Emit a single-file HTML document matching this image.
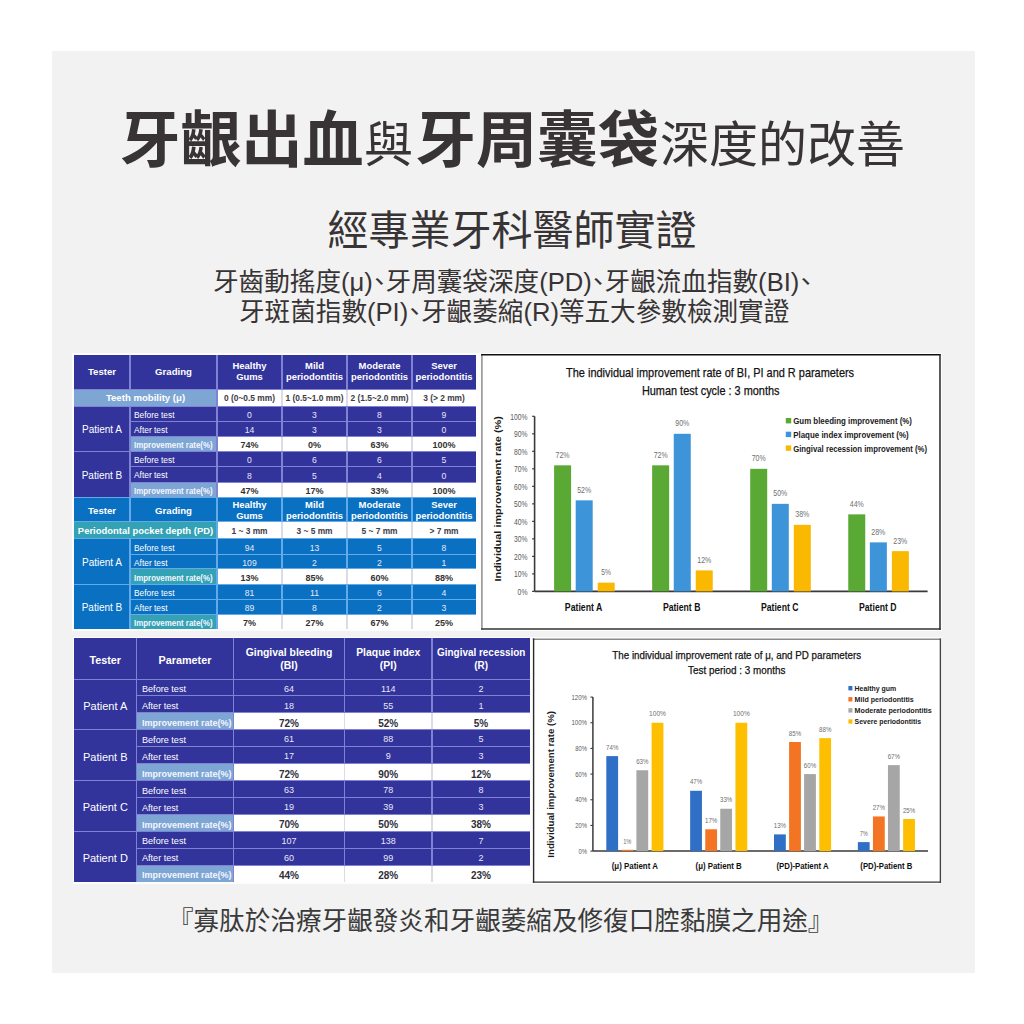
<!DOCTYPE html><html><head><meta charset="utf-8"><style>
html,body{margin:0;padding:0;background:#fff;}
body{width:1024px;height:1024px;position:relative;overflow:hidden;}
.r{position:absolute;}
.t{position:absolute;display:flex;align-items:center;white-space:nowrap;font-family:"Liberation Sans",sans-serif;box-sizing:border-box;}
.lp{letter-spacing:0px;}
.cj{position:absolute;white-space:nowrap;font-family:"Liberation Sans","Noto Sans CJK TC",sans-serif;color:#333;}

</style></head><body>
<div class="r" style="left:52px;top:51px;width:923px;height:922px;background:#f2f2f2;"></div>
<div class="r" style="left:72.3px;top:353.3px;width:870.0px;height:277.99999999999994px;background:#fdfdfe;"></div>
<div class="r" style="left:72.6px;top:636.5px;width:869.6999999999999px;height:247.79999999999995px;background:#fdfdfe;"></div>
<div class="cj" style="left:119.6px;top:110.5px;font-size:61px;font-weight:700;line-height:61px;color:#383435;">牙齦出血</div>
<div class="cj" style="left:364px;top:121px;font-size:49px;font-weight:400;line-height:49px;color:#383435;">與</div>
<div class="cj" style="left:415px;top:110.5px;font-size:61px;font-weight:700;line-height:61px;color:#383435;">牙周囊袋</div>
<div class="cj" style="left:660px;top:121px;font-size:49px;font-weight:400;line-height:49px;color:#383435;">深度的改善</div>
<div class="cj" style="left:327.5px;top:211px;font-size:41px;font-weight:400;line-height:41px;color:#383435;">經專業牙科醫師實證</div>
<div class="cj" style="left:213px;top:269.5px;font-size:25.6px;font-weight:400;line-height:25.6px;color:#383435;font-feature-settings:'palt';">牙齒動搖度<span class="lp">(μ)</span>、牙周囊袋深度<span class="lp">(PD)</span>、牙齦流血指數<span class="lp">(BI)</span>、</div>
<div class="cj" style="left:239px;top:300px;font-size:25.6px;font-weight:400;line-height:25.6px;color:#383435;font-feature-settings:'palt';">牙斑菌指數<span class="lp">(PI)</span>、牙齦萎縮<span class="lp">(R)</span>等五大參數檢測實證</div>
<div class="r" style="left:74px;top:355px;width:56px;height:34px;background:#32339b;"></div>
<div class="r" style="left:130px;top:355px;width:87px;height:34px;background:#32339b;"></div>
<div class="r" style="left:217px;top:355px;width:65px;height:34px;background:#32339b;"></div>
<div class="r" style="left:282px;top:355px;width:65px;height:34px;background:#32339b;"></div>
<div class="r" style="left:347px;top:355px;width:65px;height:34px;background:#32339b;"></div>
<div class="r" style="left:412px;top:355px;width:64px;height:34px;background:#32339b;"></div>
<div class="r" style="left:74px;top:389px;width:143px;height:17px;background:#7ea6d4;"></div>
<div class="r" style="left:217px;top:389px;width:65px;height:17px;background:#ffffff;"></div>
<div class="r" style="left:282px;top:389px;width:65px;height:17px;background:#ffffff;"></div>
<div class="r" style="left:347px;top:389px;width:65px;height:17px;background:#ffffff;"></div>
<div class="r" style="left:412px;top:389px;width:64px;height:17px;background:#ffffff;"></div>
<div class="r" style="left:74px;top:406px;width:56px;height:45px;background:#32339b;"></div>
<div class="r" style="left:130px;top:406px;width:87px;height:15px;background:#32339b;"></div>
<div class="r" style="left:217px;top:406px;width:65px;height:15px;background:#32339b;"></div>
<div class="r" style="left:282px;top:406px;width:65px;height:15px;background:#32339b;"></div>
<div class="r" style="left:347px;top:406px;width:65px;height:15px;background:#32339b;"></div>
<div class="r" style="left:412px;top:406px;width:64px;height:15px;background:#32339b;"></div>
<div class="r" style="left:130px;top:421px;width:87px;height:15px;background:#32339b;"></div>
<div class="r" style="left:217px;top:421px;width:65px;height:15px;background:#32339b;"></div>
<div class="r" style="left:282px;top:421px;width:65px;height:15px;background:#32339b;"></div>
<div class="r" style="left:347px;top:421px;width:65px;height:15px;background:#32339b;"></div>
<div class="r" style="left:412px;top:421px;width:64px;height:15px;background:#32339b;"></div>
<div class="r" style="left:130px;top:436px;width:87px;height:15px;background:#7ea6d4;"></div>
<div class="r" style="left:217px;top:436px;width:65px;height:15px;background:#ffffff;"></div>
<div class="r" style="left:282px;top:436px;width:65px;height:15px;background:#ffffff;"></div>
<div class="r" style="left:347px;top:436px;width:65px;height:15px;background:#ffffff;"></div>
<div class="r" style="left:412px;top:436px;width:64px;height:15px;background:#ffffff;"></div>
<div class="r" style="left:74px;top:451px;width:56px;height:46px;background:#32339b;"></div>
<div class="r" style="left:130px;top:451px;width:87px;height:15.5px;background:#32339b;"></div>
<div class="r" style="left:217px;top:451px;width:65px;height:15.5px;background:#32339b;"></div>
<div class="r" style="left:282px;top:451px;width:65px;height:15.5px;background:#32339b;"></div>
<div class="r" style="left:347px;top:451px;width:65px;height:15.5px;background:#32339b;"></div>
<div class="r" style="left:412px;top:451px;width:64px;height:15.5px;background:#32339b;"></div>
<div class="r" style="left:130px;top:466.5px;width:87px;height:15.5px;background:#32339b;"></div>
<div class="r" style="left:217px;top:466.5px;width:65px;height:15.5px;background:#32339b;"></div>
<div class="r" style="left:282px;top:466.5px;width:65px;height:15.5px;background:#32339b;"></div>
<div class="r" style="left:347px;top:466.5px;width:65px;height:15.5px;background:#32339b;"></div>
<div class="r" style="left:412px;top:466.5px;width:64px;height:15.5px;background:#32339b;"></div>
<div class="r" style="left:130px;top:482px;width:87px;height:15px;background:#7ea6d4;"></div>
<div class="r" style="left:217px;top:482px;width:65px;height:15px;background:#ffffff;"></div>
<div class="r" style="left:282px;top:482px;width:65px;height:15px;background:#ffffff;"></div>
<div class="r" style="left:347px;top:482px;width:65px;height:15px;background:#ffffff;"></div>
<div class="r" style="left:412px;top:482px;width:64px;height:15px;background:#ffffff;"></div>
<div class="r" style="left:74px;top:497px;width:56px;height:24.5px;background:#0a70c2;"></div>
<div class="r" style="left:130px;top:497px;width:87px;height:24.5px;background:#0a70c2;"></div>
<div class="r" style="left:217px;top:497px;width:65px;height:24.5px;background:#0a70c2;"></div>
<div class="r" style="left:282px;top:497px;width:65px;height:24.5px;background:#0a70c2;"></div>
<div class="r" style="left:347px;top:497px;width:65px;height:24.5px;background:#0a70c2;"></div>
<div class="r" style="left:412px;top:497px;width:64px;height:24.5px;background:#0a70c2;"></div>
<div class="r" style="left:74px;top:521.5px;width:143px;height:17.25px;background:#34a2b5;"></div>
<div class="r" style="left:217px;top:521.5px;width:65px;height:17.25px;background:#ffffff;"></div>
<div class="r" style="left:282px;top:521.5px;width:65px;height:17.25px;background:#ffffff;"></div>
<div class="r" style="left:347px;top:521.5px;width:65px;height:17.25px;background:#ffffff;"></div>
<div class="r" style="left:412px;top:521.5px;width:64px;height:17.25px;background:#ffffff;"></div>
<div class="r" style="left:74px;top:538.75px;width:56px;height:45.25px;background:#0a70c2;"></div>
<div class="r" style="left:130px;top:538.75px;width:87px;height:15.649999999999977px;background:#0a70c2;"></div>
<div class="r" style="left:217px;top:538.75px;width:65px;height:15.649999999999977px;background:#0a70c2;"></div>
<div class="r" style="left:282px;top:538.75px;width:65px;height:15.649999999999977px;background:#0a70c2;"></div>
<div class="r" style="left:347px;top:538.75px;width:65px;height:15.649999999999977px;background:#0a70c2;"></div>
<div class="r" style="left:412px;top:538.75px;width:64px;height:15.649999999999977px;background:#0a70c2;"></div>
<div class="r" style="left:130px;top:554.4px;width:87px;height:14.350000000000023px;background:#0a70c2;"></div>
<div class="r" style="left:217px;top:554.4px;width:65px;height:14.350000000000023px;background:#0a70c2;"></div>
<div class="r" style="left:282px;top:554.4px;width:65px;height:14.350000000000023px;background:#0a70c2;"></div>
<div class="r" style="left:347px;top:554.4px;width:65px;height:14.350000000000023px;background:#0a70c2;"></div>
<div class="r" style="left:412px;top:554.4px;width:64px;height:14.350000000000023px;background:#0a70c2;"></div>
<div class="r" style="left:130px;top:568.75px;width:87px;height:15.25px;background:#34a2b5;"></div>
<div class="r" style="left:217px;top:568.75px;width:65px;height:15.25px;background:#ffffff;"></div>
<div class="r" style="left:282px;top:568.75px;width:65px;height:15.25px;background:#ffffff;"></div>
<div class="r" style="left:347px;top:568.75px;width:65px;height:15.25px;background:#ffffff;"></div>
<div class="r" style="left:412px;top:568.75px;width:64px;height:15.25px;background:#ffffff;"></div>
<div class="r" style="left:74px;top:584px;width:56px;height:45px;background:#0a70c2;"></div>
<div class="r" style="left:130px;top:584px;width:87px;height:15.700000000000045px;background:#0a70c2;"></div>
<div class="r" style="left:217px;top:584px;width:65px;height:15.700000000000045px;background:#0a70c2;"></div>
<div class="r" style="left:282px;top:584px;width:65px;height:15.700000000000045px;background:#0a70c2;"></div>
<div class="r" style="left:347px;top:584px;width:65px;height:15.700000000000045px;background:#0a70c2;"></div>
<div class="r" style="left:412px;top:584px;width:64px;height:15.700000000000045px;background:#0a70c2;"></div>
<div class="r" style="left:130px;top:599.7px;width:87px;height:14.299999999999955px;background:#0a70c2;"></div>
<div class="r" style="left:217px;top:599.7px;width:65px;height:14.299999999999955px;background:#0a70c2;"></div>
<div class="r" style="left:282px;top:599.7px;width:65px;height:14.299999999999955px;background:#0a70c2;"></div>
<div class="r" style="left:347px;top:599.7px;width:65px;height:14.299999999999955px;background:#0a70c2;"></div>
<div class="r" style="left:412px;top:599.7px;width:64px;height:14.299999999999955px;background:#0a70c2;"></div>
<div class="r" style="left:130px;top:614px;width:87px;height:15px;background:#34a2b5;"></div>
<div class="r" style="left:217px;top:614px;width:65px;height:15px;background:#ffffff;"></div>
<div class="r" style="left:282px;top:614px;width:65px;height:15px;background:#ffffff;"></div>
<div class="r" style="left:347px;top:614px;width:65px;height:15px;background:#ffffff;"></div>
<div class="r" style="left:412px;top:614px;width:64px;height:15px;background:#ffffff;"></div>
<div class="r" style="left:129.25px;top:355px;width:1.5px;height:34px;background:#8082d4;"></div>
<div class="r" style="left:129.25px;top:406px;width:1.5px;height:15px;background:#8082d4;"></div>
<div class="r" style="left:129.25px;top:421px;width:1.5px;height:15px;background:#8082d4;"></div>
<div class="r" style="left:129.25px;top:436px;width:1.5px;height:15px;background:#8082d4;"></div>
<div class="r" style="left:129.25px;top:451px;width:1.5px;height:15.5px;background:#8082d4;"></div>
<div class="r" style="left:129.25px;top:466.5px;width:1.5px;height:15.5px;background:#8082d4;"></div>
<div class="r" style="left:129.25px;top:482px;width:1.5px;height:15px;background:#8082d4;"></div>
<div class="r" style="left:216.25px;top:355px;width:1.5px;height:34px;background:#8082d4;"></div>
<div class="r" style="left:216.25px;top:389px;width:1.5px;height:17px;background:#8082d4;"></div>
<div class="r" style="left:216.25px;top:406px;width:1.5px;height:15px;background:#8082d4;"></div>
<div class="r" style="left:216.25px;top:421px;width:1.5px;height:15px;background:#8082d4;"></div>
<div class="r" style="left:216.25px;top:436px;width:1.5px;height:15px;background:#8082d4;"></div>
<div class="r" style="left:216.25px;top:451px;width:1.5px;height:15.5px;background:#8082d4;"></div>
<div class="r" style="left:216.25px;top:466.5px;width:1.5px;height:15.5px;background:#8082d4;"></div>
<div class="r" style="left:216.25px;top:482px;width:1.5px;height:15px;background:#8082d4;"></div>
<div class="r" style="left:281.25px;top:355px;width:1.5px;height:34px;background:#8082d4;"></div>
<div class="r" style="left:281.25px;top:389px;width:1.5px;height:17px;background:#dcdce4;"></div>
<div class="r" style="left:281.25px;top:406px;width:1.5px;height:15px;background:#8082d4;"></div>
<div class="r" style="left:281.25px;top:421px;width:1.5px;height:15px;background:#8082d4;"></div>
<div class="r" style="left:281.25px;top:436px;width:1.5px;height:15px;background:#dcdce4;"></div>
<div class="r" style="left:281.25px;top:451px;width:1.5px;height:15.5px;background:#8082d4;"></div>
<div class="r" style="left:281.25px;top:466.5px;width:1.5px;height:15.5px;background:#8082d4;"></div>
<div class="r" style="left:281.25px;top:482px;width:1.5px;height:15px;background:#dcdce4;"></div>
<div class="r" style="left:346.25px;top:355px;width:1.5px;height:34px;background:#8082d4;"></div>
<div class="r" style="left:346.25px;top:389px;width:1.5px;height:17px;background:#dcdce4;"></div>
<div class="r" style="left:346.25px;top:406px;width:1.5px;height:15px;background:#8082d4;"></div>
<div class="r" style="left:346.25px;top:421px;width:1.5px;height:15px;background:#8082d4;"></div>
<div class="r" style="left:346.25px;top:436px;width:1.5px;height:15px;background:#dcdce4;"></div>
<div class="r" style="left:346.25px;top:451px;width:1.5px;height:15.5px;background:#8082d4;"></div>
<div class="r" style="left:346.25px;top:466.5px;width:1.5px;height:15.5px;background:#8082d4;"></div>
<div class="r" style="left:346.25px;top:482px;width:1.5px;height:15px;background:#dcdce4;"></div>
<div class="r" style="left:411.25px;top:355px;width:1.5px;height:34px;background:#8082d4;"></div>
<div class="r" style="left:411.25px;top:389px;width:1.5px;height:17px;background:#dcdce4;"></div>
<div class="r" style="left:411.25px;top:406px;width:1.5px;height:15px;background:#8082d4;"></div>
<div class="r" style="left:411.25px;top:421px;width:1.5px;height:15px;background:#8082d4;"></div>
<div class="r" style="left:411.25px;top:436px;width:1.5px;height:15px;background:#dcdce4;"></div>
<div class="r" style="left:411.25px;top:451px;width:1.5px;height:15.5px;background:#8082d4;"></div>
<div class="r" style="left:411.25px;top:466.5px;width:1.5px;height:15.5px;background:#8082d4;"></div>
<div class="r" style="left:411.25px;top:482px;width:1.5px;height:15px;background:#dcdce4;"></div>
<div class="r" style="left:74px;top:388.5px;width:402px;height:1px;background:#8082d4;opacity:1"></div>
<div class="r" style="left:74px;top:405.5px;width:402px;height:1px;background:#8082d4;opacity:1"></div>
<div class="r" style="left:130px;top:420.5px;width:346px;height:1px;background:#8082d4;opacity:1"></div>
<div class="r" style="left:130px;top:435.5px;width:346px;height:1px;background:#8082d4;opacity:1"></div>
<div class="r" style="left:74px;top:450.5px;width:402px;height:1px;background:#8082d4;opacity:1"></div>
<div class="r" style="left:130px;top:466.0px;width:346px;height:1px;background:#8082d4;opacity:1"></div>
<div class="r" style="left:130px;top:481.5px;width:346px;height:1px;background:#8082d4;opacity:1"></div>
<div class="r" style="left:129.25px;top:497px;width:1.5px;height:24.5px;background:#62aaea;"></div>
<div class="r" style="left:129.25px;top:538.75px;width:1.5px;height:15.649999999999977px;background:#62aaea;"></div>
<div class="r" style="left:129.25px;top:554.4px;width:1.5px;height:14.350000000000023px;background:#62aaea;"></div>
<div class="r" style="left:129.25px;top:568.75px;width:1.5px;height:15.25px;background:#62aaea;"></div>
<div class="r" style="left:129.25px;top:584px;width:1.5px;height:15.700000000000045px;background:#62aaea;"></div>
<div class="r" style="left:129.25px;top:599.7px;width:1.5px;height:14.299999999999955px;background:#62aaea;"></div>
<div class="r" style="left:129.25px;top:614px;width:1.5px;height:15px;background:#62aaea;"></div>
<div class="r" style="left:216.25px;top:497px;width:1.5px;height:24.5px;background:#62aaea;"></div>
<div class="r" style="left:216.25px;top:521.5px;width:1.5px;height:17.25px;background:#62aaea;"></div>
<div class="r" style="left:216.25px;top:538.75px;width:1.5px;height:15.649999999999977px;background:#62aaea;"></div>
<div class="r" style="left:216.25px;top:554.4px;width:1.5px;height:14.350000000000023px;background:#62aaea;"></div>
<div class="r" style="left:216.25px;top:568.75px;width:1.5px;height:15.25px;background:#62aaea;"></div>
<div class="r" style="left:216.25px;top:584px;width:1.5px;height:15.700000000000045px;background:#62aaea;"></div>
<div class="r" style="left:216.25px;top:599.7px;width:1.5px;height:14.299999999999955px;background:#62aaea;"></div>
<div class="r" style="left:216.25px;top:614px;width:1.5px;height:15px;background:#62aaea;"></div>
<div class="r" style="left:281.25px;top:497px;width:1.5px;height:24.5px;background:#62aaea;"></div>
<div class="r" style="left:281.25px;top:521.5px;width:1.5px;height:17.25px;background:#dcdce4;"></div>
<div class="r" style="left:281.25px;top:538.75px;width:1.5px;height:15.649999999999977px;background:#62aaea;"></div>
<div class="r" style="left:281.25px;top:554.4px;width:1.5px;height:14.350000000000023px;background:#62aaea;"></div>
<div class="r" style="left:281.25px;top:568.75px;width:1.5px;height:15.25px;background:#dcdce4;"></div>
<div class="r" style="left:281.25px;top:584px;width:1.5px;height:15.700000000000045px;background:#62aaea;"></div>
<div class="r" style="left:281.25px;top:599.7px;width:1.5px;height:14.299999999999955px;background:#62aaea;"></div>
<div class="r" style="left:281.25px;top:614px;width:1.5px;height:15px;background:#dcdce4;"></div>
<div class="r" style="left:346.25px;top:497px;width:1.5px;height:24.5px;background:#62aaea;"></div>
<div class="r" style="left:346.25px;top:521.5px;width:1.5px;height:17.25px;background:#dcdce4;"></div>
<div class="r" style="left:346.25px;top:538.75px;width:1.5px;height:15.649999999999977px;background:#62aaea;"></div>
<div class="r" style="left:346.25px;top:554.4px;width:1.5px;height:14.350000000000023px;background:#62aaea;"></div>
<div class="r" style="left:346.25px;top:568.75px;width:1.5px;height:15.25px;background:#dcdce4;"></div>
<div class="r" style="left:346.25px;top:584px;width:1.5px;height:15.700000000000045px;background:#62aaea;"></div>
<div class="r" style="left:346.25px;top:599.7px;width:1.5px;height:14.299999999999955px;background:#62aaea;"></div>
<div class="r" style="left:346.25px;top:614px;width:1.5px;height:15px;background:#dcdce4;"></div>
<div class="r" style="left:411.25px;top:497px;width:1.5px;height:24.5px;background:#62aaea;"></div>
<div class="r" style="left:411.25px;top:521.5px;width:1.5px;height:17.25px;background:#dcdce4;"></div>
<div class="r" style="left:411.25px;top:538.75px;width:1.5px;height:15.649999999999977px;background:#62aaea;"></div>
<div class="r" style="left:411.25px;top:554.4px;width:1.5px;height:14.350000000000023px;background:#62aaea;"></div>
<div class="r" style="left:411.25px;top:568.75px;width:1.5px;height:15.25px;background:#dcdce4;"></div>
<div class="r" style="left:411.25px;top:584px;width:1.5px;height:15.700000000000045px;background:#62aaea;"></div>
<div class="r" style="left:411.25px;top:599.7px;width:1.5px;height:14.299999999999955px;background:#62aaea;"></div>
<div class="r" style="left:411.25px;top:614px;width:1.5px;height:15px;background:#dcdce4;"></div>
<div class="r" style="left:74px;top:521.0px;width:402px;height:1px;background:#62aaea;opacity:1"></div>
<div class="r" style="left:74px;top:538.25px;width:402px;height:1px;background:#62aaea;opacity:1"></div>
<div class="r" style="left:130px;top:553.9px;width:346px;height:1px;background:#62aaea;opacity:1"></div>
<div class="r" style="left:130px;top:568.25px;width:346px;height:1px;background:#62aaea;opacity:1"></div>
<div class="r" style="left:74px;top:583.5px;width:402px;height:1px;background:#62aaea;opacity:1"></div>
<div class="r" style="left:130px;top:599.2px;width:346px;height:1px;background:#62aaea;opacity:1"></div>
<div class="r" style="left:130px;top:613.5px;width:346px;height:1px;background:#62aaea;opacity:1"></div>
<div class="r" style="left:74px;top:496.5px;width:402px;height:1px;background:#62aaea;opacity:1"></div>
<div class="t" style="left:74px;top:354px;width:56px;height:34px;font-size:9.6px;color:#fff;font-weight:700;justify-content:center;text-align:center;padding-left:0px;">Tester</div>
<div class="t" style="left:130px;top:354px;width:87px;height:34px;font-size:9.6px;color:#fff;font-weight:700;justify-content:center;text-align:center;padding-left:0px;">Grading</div>
<div class="t" style="left:217px;top:353.7px;width:65px;height:34.0px;font-size:9.45px;color:#fff;font-weight:700;justify-content:center;text-align:center;padding-left:0px;line-height:11px;">Healthy<br>Gums</div>
<div class="t" style="left:282px;top:353.7px;width:65px;height:34.0px;font-size:9.45px;color:#fff;font-weight:700;justify-content:center;text-align:center;padding-left:0px;line-height:11px;">Mild<br>periodontitis</div>
<div class="t" style="left:347px;top:353.7px;width:65px;height:34.0px;font-size:9.45px;color:#fff;font-weight:700;justify-content:center;text-align:center;padding-left:0px;line-height:11px;">Moderate<br>periodontitis</div>
<div class="t" style="left:412px;top:353.7px;width:64px;height:34.0px;font-size:9.45px;color:#fff;font-weight:700;justify-content:center;text-align:center;padding-left:0px;line-height:11px;">Sever<br>periodontitis</div>
<div class="t" style="left:74px;top:389.3px;width:143px;height:17.0px;font-size:9.6px;color:#fff;font-weight:700;justify-content:center;text-align:center;padding-left:0px;">Teeth mobility (μ)</div>
<div class="t" style="left:217px;top:389.5px;width:65px;height:17.0px;font-size:8.4px;color:#3c3c48;font-weight:700;justify-content:center;text-align:center;padding-left:0px;letter-spacing:0px;">0 (0~0.5 mm)</div>
<div class="t" style="left:282px;top:389.5px;width:65px;height:17.0px;font-size:8.4px;color:#3c3c48;font-weight:700;justify-content:center;text-align:center;padding-left:0px;letter-spacing:0px;">1 (0.5~1.0 mm)</div>
<div class="t" style="left:347px;top:389.5px;width:65px;height:17.0px;font-size:8.4px;color:#3c3c48;font-weight:700;justify-content:center;text-align:center;padding-left:0px;letter-spacing:0px;">2 (1.5~2.0 mm)</div>
<div class="t" style="left:412px;top:389.5px;width:64px;height:17.0px;font-size:8.4px;color:#3c3c48;font-weight:700;justify-content:center;text-align:center;padding-left:0px;letter-spacing:0px;">3 (&gt; 2 mm)</div>
<div class="t" style="left:74px;top:407.4px;width:56px;height:45.0px;font-size:10px;color:#fff;font-weight:400;justify-content:center;text-align:center;padding-left:0px;">Patient A</div>
<div class="t" style="left:130px;top:407.2px;width:87px;height:15.0px;font-size:8.4px;color:#fff;font-weight:400;justify-content:flex-start;text-align:left;padding-left:4px;">Before test</div>
<div class="t" style="left:217px;top:407.3px;width:65px;height:15.0px;font-size:8.6px;color:#e8e8f8;font-weight:400;justify-content:center;text-align:center;padding-left:0px;">0</div>
<div class="t" style="left:282px;top:407.3px;width:65px;height:15.0px;font-size:8.6px;color:#e8e8f8;font-weight:400;justify-content:center;text-align:center;padding-left:0px;">3</div>
<div class="t" style="left:347px;top:407.3px;width:65px;height:15.0px;font-size:8.6px;color:#e8e8f8;font-weight:400;justify-content:center;text-align:center;padding-left:0px;">8</div>
<div class="t" style="left:412px;top:407.3px;width:64px;height:15.0px;font-size:8.6px;color:#e8e8f8;font-weight:400;justify-content:center;text-align:center;padding-left:0px;">9</div>
<div class="t" style="left:130px;top:422.2px;width:87px;height:15.0px;font-size:8.4px;color:#fff;font-weight:400;justify-content:flex-start;text-align:left;padding-left:4px;">After test</div>
<div class="t" style="left:217px;top:422.3px;width:65px;height:15.0px;font-size:8.6px;color:#e8e8f8;font-weight:400;justify-content:center;text-align:center;padding-left:0px;">14</div>
<div class="t" style="left:282px;top:422.3px;width:65px;height:15.0px;font-size:8.6px;color:#e8e8f8;font-weight:400;justify-content:center;text-align:center;padding-left:0px;">3</div>
<div class="t" style="left:347px;top:422.3px;width:65px;height:15.0px;font-size:8.6px;color:#e8e8f8;font-weight:400;justify-content:center;text-align:center;padding-left:0px;">3</div>
<div class="t" style="left:412px;top:422.3px;width:64px;height:15.0px;font-size:8.6px;color:#e8e8f8;font-weight:400;justify-content:center;text-align:center;padding-left:0px;">0</div>
<div class="t" style="left:130px;top:437.2px;width:87px;height:15.0px;font-size:8.6px;color:#f4f6ff;font-weight:700;justify-content:flex-start;text-align:left;padding-left:4px;"><span style="display:inline-block;transform:scaleX(0.92);transform-origin:0 50%">Improvement rate(%)</span></div>
<div class="t" style="left:217px;top:437.3px;width:65px;height:15.0px;font-size:9px;color:#333333;font-weight:700;justify-content:center;text-align:center;padding-left:0px;">74%</div>
<div class="t" style="left:282px;top:437.3px;width:65px;height:15.0px;font-size:9px;color:#333333;font-weight:700;justify-content:center;text-align:center;padding-left:0px;">0%</div>
<div class="t" style="left:347px;top:437.3px;width:65px;height:15.0px;font-size:9px;color:#333333;font-weight:700;justify-content:center;text-align:center;padding-left:0px;">63%</div>
<div class="t" style="left:412px;top:437.3px;width:64px;height:15.0px;font-size:9px;color:#333333;font-weight:700;justify-content:center;text-align:center;padding-left:0px;">100%</div>
<div class="t" style="left:74px;top:452.4px;width:56px;height:46.0px;font-size:10px;color:#fff;font-weight:400;justify-content:center;text-align:center;padding-left:0px;">Patient B</div>
<div class="t" style="left:130px;top:452.2px;width:87px;height:15.5px;font-size:8.4px;color:#fff;font-weight:400;justify-content:flex-start;text-align:left;padding-left:4px;">Before test</div>
<div class="t" style="left:217px;top:452.3px;width:65px;height:15.5px;font-size:8.6px;color:#e8e8f8;font-weight:400;justify-content:center;text-align:center;padding-left:0px;">0</div>
<div class="t" style="left:282px;top:452.3px;width:65px;height:15.5px;font-size:8.6px;color:#e8e8f8;font-weight:400;justify-content:center;text-align:center;padding-left:0px;">6</div>
<div class="t" style="left:347px;top:452.3px;width:65px;height:15.5px;font-size:8.6px;color:#e8e8f8;font-weight:400;justify-content:center;text-align:center;padding-left:0px;">6</div>
<div class="t" style="left:412px;top:452.3px;width:64px;height:15.5px;font-size:8.6px;color:#e8e8f8;font-weight:400;justify-content:center;text-align:center;padding-left:0px;">5</div>
<div class="t" style="left:130px;top:467.7px;width:87px;height:15.5px;font-size:8.4px;color:#fff;font-weight:400;justify-content:flex-start;text-align:left;padding-left:4px;">After test</div>
<div class="t" style="left:217px;top:467.8px;width:65px;height:15.5px;font-size:8.6px;color:#e8e8f8;font-weight:400;justify-content:center;text-align:center;padding-left:0px;">8</div>
<div class="t" style="left:282px;top:467.8px;width:65px;height:15.5px;font-size:8.6px;color:#e8e8f8;font-weight:400;justify-content:center;text-align:center;padding-left:0px;">5</div>
<div class="t" style="left:347px;top:467.8px;width:65px;height:15.5px;font-size:8.6px;color:#e8e8f8;font-weight:400;justify-content:center;text-align:center;padding-left:0px;">4</div>
<div class="t" style="left:412px;top:467.8px;width:64px;height:15.5px;font-size:8.6px;color:#e8e8f8;font-weight:400;justify-content:center;text-align:center;padding-left:0px;">0</div>
<div class="t" style="left:130px;top:483.2px;width:87px;height:15.0px;font-size:8.6px;color:#f4f6ff;font-weight:700;justify-content:flex-start;text-align:left;padding-left:4px;"><span style="display:inline-block;transform:scaleX(0.92);transform-origin:0 50%">Improvement rate(%)</span></div>
<div class="t" style="left:217px;top:483.3px;width:65px;height:15.0px;font-size:9px;color:#333333;font-weight:700;justify-content:center;text-align:center;padding-left:0px;">47%</div>
<div class="t" style="left:282px;top:483.3px;width:65px;height:15.0px;font-size:9px;color:#333333;font-weight:700;justify-content:center;text-align:center;padding-left:0px;">17%</div>
<div class="t" style="left:347px;top:483.3px;width:65px;height:15.0px;font-size:9px;color:#333333;font-weight:700;justify-content:center;text-align:center;padding-left:0px;">33%</div>
<div class="t" style="left:412px;top:483.3px;width:64px;height:15.0px;font-size:9px;color:#333333;font-weight:700;justify-content:center;text-align:center;padding-left:0px;">100%</div>
<div class="t" style="left:74px;top:498px;width:56px;height:24.5px;font-size:9.6px;color:#fff;font-weight:700;justify-content:center;text-align:center;padding-left:0px;">Tester</div>
<div class="t" style="left:130px;top:498px;width:87px;height:24.5px;font-size:9.6px;color:#fff;font-weight:700;justify-content:center;text-align:center;padding-left:0px;">Grading</div>
<div class="t" style="left:217px;top:497.7px;width:65px;height:24.500000000000057px;font-size:9.45px;color:#fff;font-weight:700;justify-content:center;text-align:center;padding-left:0px;line-height:11px;">Healthy<br>Gums</div>
<div class="t" style="left:282px;top:497.7px;width:65px;height:24.500000000000057px;font-size:9.45px;color:#fff;font-weight:700;justify-content:center;text-align:center;padding-left:0px;line-height:11px;">Mild<br>periodontitis</div>
<div class="t" style="left:347px;top:497.7px;width:65px;height:24.500000000000057px;font-size:9.45px;color:#fff;font-weight:700;justify-content:center;text-align:center;padding-left:0px;line-height:11px;">Moderate<br>periodontitis</div>
<div class="t" style="left:412px;top:497.7px;width:64px;height:24.500000000000057px;font-size:9.45px;color:#fff;font-weight:700;justify-content:center;text-align:center;padding-left:0px;line-height:11px;">Sever<br>periodontitis</div>
<div class="t" style="left:74px;top:521.8px;width:143px;height:17.25px;font-size:9.45px;color:#fff;font-weight:700;justify-content:center;text-align:center;padding-left:0px;">Periodontal pocket depth (PD)</div>
<div class="t" style="left:217px;top:522.0px;width:65px;height:17.25px;font-size:8.4px;color:#3c3c48;font-weight:700;justify-content:center;text-align:center;padding-left:0px;letter-spacing:0px;">1 ~ 3 mm</div>
<div class="t" style="left:282px;top:522.0px;width:65px;height:17.25px;font-size:8.4px;color:#3c3c48;font-weight:700;justify-content:center;text-align:center;padding-left:0px;letter-spacing:0px;">3 ~ 5 mm</div>
<div class="t" style="left:347px;top:522.0px;width:65px;height:17.25px;font-size:8.4px;color:#3c3c48;font-weight:700;justify-content:center;text-align:center;padding-left:0px;letter-spacing:0px;">5 ~ 7 mm</div>
<div class="t" style="left:412px;top:522.0px;width:64px;height:17.25px;font-size:8.4px;color:#3c3c48;font-weight:700;justify-content:center;text-align:center;padding-left:0px;letter-spacing:0px;">&gt; 7 mm</div>
<div class="t" style="left:74px;top:540.15px;width:56px;height:45.25px;font-size:10px;color:#fff;font-weight:400;justify-content:center;text-align:center;padding-left:0px;">Patient A</div>
<div class="t" style="left:130px;top:539.95px;width:87px;height:15.649999999999977px;font-size:8.4px;color:#fff;font-weight:400;justify-content:flex-start;text-align:left;padding-left:4px;">Before test</div>
<div class="t" style="left:217px;top:540.05px;width:65px;height:15.649999999999977px;font-size:8.6px;color:#e8e8f8;font-weight:400;justify-content:center;text-align:center;padding-left:0px;">94</div>
<div class="t" style="left:282px;top:540.05px;width:65px;height:15.649999999999977px;font-size:8.6px;color:#e8e8f8;font-weight:400;justify-content:center;text-align:center;padding-left:0px;">13</div>
<div class="t" style="left:347px;top:540.05px;width:65px;height:15.649999999999977px;font-size:8.6px;color:#e8e8f8;font-weight:400;justify-content:center;text-align:center;padding-left:0px;">5</div>
<div class="t" style="left:412px;top:540.05px;width:64px;height:15.649999999999977px;font-size:8.6px;color:#e8e8f8;font-weight:400;justify-content:center;text-align:center;padding-left:0px;">8</div>
<div class="t" style="left:130px;top:555.6px;width:87px;height:14.350000000000023px;font-size:8.4px;color:#fff;font-weight:400;justify-content:flex-start;text-align:left;padding-left:4px;">After test</div>
<div class="t" style="left:217px;top:555.6999999999999px;width:65px;height:14.350000000000023px;font-size:8.6px;color:#e8e8f8;font-weight:400;justify-content:center;text-align:center;padding-left:0px;">109</div>
<div class="t" style="left:282px;top:555.6999999999999px;width:65px;height:14.350000000000023px;font-size:8.6px;color:#e8e8f8;font-weight:400;justify-content:center;text-align:center;padding-left:0px;">2</div>
<div class="t" style="left:347px;top:555.6999999999999px;width:65px;height:14.350000000000023px;font-size:8.6px;color:#e8e8f8;font-weight:400;justify-content:center;text-align:center;padding-left:0px;">2</div>
<div class="t" style="left:412px;top:555.6999999999999px;width:64px;height:14.350000000000023px;font-size:8.6px;color:#e8e8f8;font-weight:400;justify-content:center;text-align:center;padding-left:0px;">1</div>
<div class="t" style="left:130px;top:569.95px;width:87px;height:15.25px;font-size:8.6px;color:#f4f6ff;font-weight:700;justify-content:flex-start;text-align:left;padding-left:4px;"><span style="display:inline-block;transform:scaleX(0.92);transform-origin:0 50%">Improvement rate(%)</span></div>
<div class="t" style="left:217px;top:570.05px;width:65px;height:15.25px;font-size:9px;color:#333333;font-weight:700;justify-content:center;text-align:center;padding-left:0px;">13%</div>
<div class="t" style="left:282px;top:570.05px;width:65px;height:15.25px;font-size:9px;color:#333333;font-weight:700;justify-content:center;text-align:center;padding-left:0px;">85%</div>
<div class="t" style="left:347px;top:570.05px;width:65px;height:15.25px;font-size:9px;color:#333333;font-weight:700;justify-content:center;text-align:center;padding-left:0px;">60%</div>
<div class="t" style="left:412px;top:570.05px;width:64px;height:15.25px;font-size:9px;color:#333333;font-weight:700;justify-content:center;text-align:center;padding-left:0px;">88%</div>
<div class="t" style="left:74px;top:585.4px;width:56px;height:45.0px;font-size:10px;color:#fff;font-weight:400;justify-content:center;text-align:center;padding-left:0px;">Patient B</div>
<div class="t" style="left:130px;top:585.2px;width:87px;height:15.700000000000045px;font-size:8.4px;color:#fff;font-weight:400;justify-content:flex-start;text-align:left;padding-left:4px;">Before test</div>
<div class="t" style="left:217px;top:585.3px;width:65px;height:15.700000000000045px;font-size:8.6px;color:#e8e8f8;font-weight:400;justify-content:center;text-align:center;padding-left:0px;">81</div>
<div class="t" style="left:282px;top:585.3px;width:65px;height:15.700000000000045px;font-size:8.6px;color:#e8e8f8;font-weight:400;justify-content:center;text-align:center;padding-left:0px;">11</div>
<div class="t" style="left:347px;top:585.3px;width:65px;height:15.700000000000045px;font-size:8.6px;color:#e8e8f8;font-weight:400;justify-content:center;text-align:center;padding-left:0px;">6</div>
<div class="t" style="left:412px;top:585.3px;width:64px;height:15.700000000000045px;font-size:8.6px;color:#e8e8f8;font-weight:400;justify-content:center;text-align:center;padding-left:0px;">4</div>
<div class="t" style="left:130px;top:600.9000000000001px;width:87px;height:14.299999999999955px;font-size:8.4px;color:#fff;font-weight:400;justify-content:flex-start;text-align:left;padding-left:4px;">After test</div>
<div class="t" style="left:217px;top:601.0px;width:65px;height:14.299999999999955px;font-size:8.6px;color:#e8e8f8;font-weight:400;justify-content:center;text-align:center;padding-left:0px;">89</div>
<div class="t" style="left:282px;top:601.0px;width:65px;height:14.299999999999955px;font-size:8.6px;color:#e8e8f8;font-weight:400;justify-content:center;text-align:center;padding-left:0px;">8</div>
<div class="t" style="left:347px;top:601.0px;width:65px;height:14.299999999999955px;font-size:8.6px;color:#e8e8f8;font-weight:400;justify-content:center;text-align:center;padding-left:0px;">2</div>
<div class="t" style="left:412px;top:601.0px;width:64px;height:14.299999999999955px;font-size:8.6px;color:#e8e8f8;font-weight:400;justify-content:center;text-align:center;padding-left:0px;">3</div>
<div class="t" style="left:130px;top:615.2px;width:87px;height:15.0px;font-size:8.6px;color:#f4f6ff;font-weight:700;justify-content:flex-start;text-align:left;padding-left:4px;"><span style="display:inline-block;transform:scaleX(0.92);transform-origin:0 50%">Improvement rate(%)</span></div>
<div class="t" style="left:217px;top:615.3px;width:65px;height:15.0px;font-size:9px;color:#333333;font-weight:700;justify-content:center;text-align:center;padding-left:0px;">7%</div>
<div class="t" style="left:282px;top:615.3px;width:65px;height:15.0px;font-size:9px;color:#333333;font-weight:700;justify-content:center;text-align:center;padding-left:0px;">27%</div>
<div class="t" style="left:347px;top:615.3px;width:65px;height:15.0px;font-size:9px;color:#333333;font-weight:700;justify-content:center;text-align:center;padding-left:0px;">67%</div>
<div class="t" style="left:412px;top:615.3px;width:64px;height:15.0px;font-size:9px;color:#333333;font-weight:700;justify-content:center;text-align:center;padding-left:0px;">25%</div>
<div class="r" style="left:74px;top:638px;width:62.5px;height:41px;background:#32339b;"></div>
<div class="r" style="left:136.5px;top:638px;width:97.0px;height:41px;background:#32339b;"></div>
<div class="r" style="left:233.5px;top:638px;width:111.0px;height:41px;background:#32339b;"></div>
<div class="r" style="left:344.5px;top:638px;width:87.5px;height:41px;background:#32339b;"></div>
<div class="r" style="left:432px;top:638px;width:98px;height:41px;background:#32339b;"></div>
<div class="r" style="left:74px;top:679px;width:62.5px;height:50.75px;background:#32339b;"></div>
<div class="r" style="left:136.5px;top:679px;width:97.0px;height:16.899999999999977px;background:#32339b;"></div>
<div class="r" style="left:233.5px;top:679px;width:111.0px;height:16.899999999999977px;background:#32339b;"></div>
<div class="r" style="left:344.5px;top:679px;width:87.5px;height:16.899999999999977px;background:#32339b;"></div>
<div class="r" style="left:432px;top:679px;width:98px;height:16.899999999999977px;background:#32339b;"></div>
<div class="r" style="left:136.5px;top:695.9px;width:97.0px;height:16.899999999999977px;background:#32339b;"></div>
<div class="r" style="left:233.5px;top:695.9px;width:111.0px;height:16.899999999999977px;background:#32339b;"></div>
<div class="r" style="left:344.5px;top:695.9px;width:87.5px;height:16.899999999999977px;background:#32339b;"></div>
<div class="r" style="left:432px;top:695.9px;width:98px;height:16.899999999999977px;background:#32339b;"></div>
<div class="r" style="left:136.5px;top:712.8px;width:97.0px;height:16.950000000000045px;background:#7ea6d4;"></div>
<div class="r" style="left:233.5px;top:712.8px;width:111.0px;height:16.950000000000045px;background:#ffffff;"></div>
<div class="r" style="left:344.5px;top:712.8px;width:87.5px;height:16.950000000000045px;background:#ffffff;"></div>
<div class="r" style="left:432px;top:712.8px;width:98px;height:16.950000000000045px;background:#ffffff;"></div>
<div class="r" style="left:74px;top:729.75px;width:62.5px;height:50.75px;background:#32339b;"></div>
<div class="r" style="left:136.5px;top:729.75px;width:97.0px;height:16.899999999999977px;background:#32339b;"></div>
<div class="r" style="left:233.5px;top:729.75px;width:111.0px;height:16.899999999999977px;background:#32339b;"></div>
<div class="r" style="left:344.5px;top:729.75px;width:87.5px;height:16.899999999999977px;background:#32339b;"></div>
<div class="r" style="left:432px;top:729.75px;width:98px;height:16.899999999999977px;background:#32339b;"></div>
<div class="r" style="left:136.5px;top:746.65px;width:97.0px;height:16.899999999999977px;background:#32339b;"></div>
<div class="r" style="left:233.5px;top:746.65px;width:111.0px;height:16.899999999999977px;background:#32339b;"></div>
<div class="r" style="left:344.5px;top:746.65px;width:87.5px;height:16.899999999999977px;background:#32339b;"></div>
<div class="r" style="left:432px;top:746.65px;width:98px;height:16.899999999999977px;background:#32339b;"></div>
<div class="r" style="left:136.5px;top:763.55px;width:97.0px;height:16.950000000000045px;background:#7ea6d4;"></div>
<div class="r" style="left:233.5px;top:763.55px;width:111.0px;height:16.950000000000045px;background:#ffffff;"></div>
<div class="r" style="left:344.5px;top:763.55px;width:87.5px;height:16.950000000000045px;background:#ffffff;"></div>
<div class="r" style="left:432px;top:763.55px;width:98px;height:16.950000000000045px;background:#ffffff;"></div>
<div class="r" style="left:74px;top:780.5px;width:62.5px;height:50.75px;background:#32339b;"></div>
<div class="r" style="left:136.5px;top:780.5px;width:97.0px;height:16.899999999999977px;background:#32339b;"></div>
<div class="r" style="left:233.5px;top:780.5px;width:111.0px;height:16.899999999999977px;background:#32339b;"></div>
<div class="r" style="left:344.5px;top:780.5px;width:87.5px;height:16.899999999999977px;background:#32339b;"></div>
<div class="r" style="left:432px;top:780.5px;width:98px;height:16.899999999999977px;background:#32339b;"></div>
<div class="r" style="left:136.5px;top:797.4px;width:97.0px;height:16.899999999999977px;background:#32339b;"></div>
<div class="r" style="left:233.5px;top:797.4px;width:111.0px;height:16.899999999999977px;background:#32339b;"></div>
<div class="r" style="left:344.5px;top:797.4px;width:87.5px;height:16.899999999999977px;background:#32339b;"></div>
<div class="r" style="left:432px;top:797.4px;width:98px;height:16.899999999999977px;background:#32339b;"></div>
<div class="r" style="left:136.5px;top:814.3px;width:97.0px;height:16.950000000000045px;background:#7ea6d4;"></div>
<div class="r" style="left:233.5px;top:814.3px;width:111.0px;height:16.950000000000045px;background:#ffffff;"></div>
<div class="r" style="left:344.5px;top:814.3px;width:87.5px;height:16.950000000000045px;background:#ffffff;"></div>
<div class="r" style="left:432px;top:814.3px;width:98px;height:16.950000000000045px;background:#ffffff;"></div>
<div class="r" style="left:74px;top:831.25px;width:62.5px;height:50.75px;background:#32339b;"></div>
<div class="r" style="left:136.5px;top:831.25px;width:97.0px;height:16.899999999999977px;background:#32339b;"></div>
<div class="r" style="left:233.5px;top:831.25px;width:111.0px;height:16.899999999999977px;background:#32339b;"></div>
<div class="r" style="left:344.5px;top:831.25px;width:87.5px;height:16.899999999999977px;background:#32339b;"></div>
<div class="r" style="left:432px;top:831.25px;width:98px;height:16.899999999999977px;background:#32339b;"></div>
<div class="r" style="left:136.5px;top:848.15px;width:97.0px;height:16.899999999999977px;background:#32339b;"></div>
<div class="r" style="left:233.5px;top:848.15px;width:111.0px;height:16.899999999999977px;background:#32339b;"></div>
<div class="r" style="left:344.5px;top:848.15px;width:87.5px;height:16.899999999999977px;background:#32339b;"></div>
<div class="r" style="left:432px;top:848.15px;width:98px;height:16.899999999999977px;background:#32339b;"></div>
<div class="r" style="left:136.5px;top:865.05px;width:97.0px;height:16.950000000000045px;background:#7ea6d4;"></div>
<div class="r" style="left:233.5px;top:865.05px;width:111.0px;height:16.950000000000045px;background:#ffffff;"></div>
<div class="r" style="left:344.5px;top:865.05px;width:87.5px;height:16.950000000000045px;background:#ffffff;"></div>
<div class="r" style="left:432px;top:865.05px;width:98px;height:16.950000000000045px;background:#ffffff;"></div>
<div class="r" style="left:135.75px;top:638px;width:1.5px;height:41px;background:#8082d4;"></div>
<div class="r" style="left:135.75px;top:679px;width:1.5px;height:16.899999999999977px;background:#8082d4;"></div>
<div class="r" style="left:135.75px;top:695.9px;width:1.5px;height:16.899999999999977px;background:#8082d4;"></div>
<div class="r" style="left:135.75px;top:712.8px;width:1.5px;height:16.950000000000045px;background:#8082d4;"></div>
<div class="r" style="left:135.75px;top:729.75px;width:1.5px;height:16.899999999999977px;background:#8082d4;"></div>
<div class="r" style="left:135.75px;top:746.65px;width:1.5px;height:16.899999999999977px;background:#8082d4;"></div>
<div class="r" style="left:135.75px;top:763.55px;width:1.5px;height:16.950000000000045px;background:#8082d4;"></div>
<div class="r" style="left:135.75px;top:780.5px;width:1.5px;height:16.899999999999977px;background:#8082d4;"></div>
<div class="r" style="left:135.75px;top:797.4px;width:1.5px;height:16.899999999999977px;background:#8082d4;"></div>
<div class="r" style="left:135.75px;top:814.3px;width:1.5px;height:16.950000000000045px;background:#8082d4;"></div>
<div class="r" style="left:135.75px;top:831.25px;width:1.5px;height:16.899999999999977px;background:#8082d4;"></div>
<div class="r" style="left:135.75px;top:848.15px;width:1.5px;height:16.899999999999977px;background:#8082d4;"></div>
<div class="r" style="left:135.75px;top:865.05px;width:1.5px;height:16.950000000000045px;background:#8082d4;"></div>
<div class="r" style="left:232.75px;top:638px;width:1.5px;height:41px;background:#8082d4;"></div>
<div class="r" style="left:232.75px;top:679px;width:1.5px;height:16.899999999999977px;background:#8082d4;"></div>
<div class="r" style="left:232.75px;top:695.9px;width:1.5px;height:16.899999999999977px;background:#8082d4;"></div>
<div class="r" style="left:232.75px;top:712.8px;width:1.5px;height:16.950000000000045px;background:#8082d4;"></div>
<div class="r" style="left:232.75px;top:729.75px;width:1.5px;height:16.899999999999977px;background:#8082d4;"></div>
<div class="r" style="left:232.75px;top:746.65px;width:1.5px;height:16.899999999999977px;background:#8082d4;"></div>
<div class="r" style="left:232.75px;top:763.55px;width:1.5px;height:16.950000000000045px;background:#8082d4;"></div>
<div class="r" style="left:232.75px;top:780.5px;width:1.5px;height:16.899999999999977px;background:#8082d4;"></div>
<div class="r" style="left:232.75px;top:797.4px;width:1.5px;height:16.899999999999977px;background:#8082d4;"></div>
<div class="r" style="left:232.75px;top:814.3px;width:1.5px;height:16.950000000000045px;background:#8082d4;"></div>
<div class="r" style="left:232.75px;top:831.25px;width:1.5px;height:16.899999999999977px;background:#8082d4;"></div>
<div class="r" style="left:232.75px;top:848.15px;width:1.5px;height:16.899999999999977px;background:#8082d4;"></div>
<div class="r" style="left:232.75px;top:865.05px;width:1.5px;height:16.950000000000045px;background:#8082d4;"></div>
<div class="r" style="left:343.75px;top:638px;width:1.5px;height:41px;background:#8082d4;"></div>
<div class="r" style="left:343.75px;top:679px;width:1.5px;height:16.899999999999977px;background:#8082d4;"></div>
<div class="r" style="left:343.75px;top:695.9px;width:1.5px;height:16.899999999999977px;background:#8082d4;"></div>
<div class="r" style="left:343.75px;top:712.8px;width:1.5px;height:16.950000000000045px;background:#dcdce4;"></div>
<div class="r" style="left:343.75px;top:729.75px;width:1.5px;height:16.899999999999977px;background:#8082d4;"></div>
<div class="r" style="left:343.75px;top:746.65px;width:1.5px;height:16.899999999999977px;background:#8082d4;"></div>
<div class="r" style="left:343.75px;top:763.55px;width:1.5px;height:16.950000000000045px;background:#dcdce4;"></div>
<div class="r" style="left:343.75px;top:780.5px;width:1.5px;height:16.899999999999977px;background:#8082d4;"></div>
<div class="r" style="left:343.75px;top:797.4px;width:1.5px;height:16.899999999999977px;background:#8082d4;"></div>
<div class="r" style="left:343.75px;top:814.3px;width:1.5px;height:16.950000000000045px;background:#dcdce4;"></div>
<div class="r" style="left:343.75px;top:831.25px;width:1.5px;height:16.899999999999977px;background:#8082d4;"></div>
<div class="r" style="left:343.75px;top:848.15px;width:1.5px;height:16.899999999999977px;background:#8082d4;"></div>
<div class="r" style="left:343.75px;top:865.05px;width:1.5px;height:16.950000000000045px;background:#dcdce4;"></div>
<div class="r" style="left:431.25px;top:638px;width:1.5px;height:41px;background:#8082d4;"></div>
<div class="r" style="left:431.25px;top:679px;width:1.5px;height:16.899999999999977px;background:#8082d4;"></div>
<div class="r" style="left:431.25px;top:695.9px;width:1.5px;height:16.899999999999977px;background:#8082d4;"></div>
<div class="r" style="left:431.25px;top:712.8px;width:1.5px;height:16.950000000000045px;background:#dcdce4;"></div>
<div class="r" style="left:431.25px;top:729.75px;width:1.5px;height:16.899999999999977px;background:#8082d4;"></div>
<div class="r" style="left:431.25px;top:746.65px;width:1.5px;height:16.899999999999977px;background:#8082d4;"></div>
<div class="r" style="left:431.25px;top:763.55px;width:1.5px;height:16.950000000000045px;background:#dcdce4;"></div>
<div class="r" style="left:431.25px;top:780.5px;width:1.5px;height:16.899999999999977px;background:#8082d4;"></div>
<div class="r" style="left:431.25px;top:797.4px;width:1.5px;height:16.899999999999977px;background:#8082d4;"></div>
<div class="r" style="left:431.25px;top:814.3px;width:1.5px;height:16.950000000000045px;background:#dcdce4;"></div>
<div class="r" style="left:431.25px;top:831.25px;width:1.5px;height:16.899999999999977px;background:#8082d4;"></div>
<div class="r" style="left:431.25px;top:848.15px;width:1.5px;height:16.899999999999977px;background:#8082d4;"></div>
<div class="r" style="left:431.25px;top:865.05px;width:1.5px;height:16.950000000000045px;background:#dcdce4;"></div>
<div class="r" style="left:74px;top:678.5px;width:456px;height:1px;background:#8082d4;opacity:1"></div>
<div class="r" style="left:136.5px;top:695.4px;width:393.5px;height:1px;background:#8082d4;opacity:1"></div>
<div class="r" style="left:136.5px;top:712.3px;width:393.5px;height:1px;background:#8082d4;opacity:1"></div>
<div class="r" style="left:74px;top:729.25px;width:456px;height:1px;background:#8082d4;opacity:1"></div>
<div class="r" style="left:136.5px;top:746.15px;width:393.5px;height:1px;background:#8082d4;opacity:1"></div>
<div class="r" style="left:136.5px;top:763.05px;width:393.5px;height:1px;background:#8082d4;opacity:1"></div>
<div class="r" style="left:74px;top:780.0px;width:456px;height:1px;background:#8082d4;opacity:1"></div>
<div class="r" style="left:136.5px;top:796.9px;width:393.5px;height:1px;background:#8082d4;opacity:1"></div>
<div class="r" style="left:136.5px;top:813.8px;width:393.5px;height:1px;background:#8082d4;opacity:1"></div>
<div class="r" style="left:74px;top:830.75px;width:456px;height:1px;background:#8082d4;opacity:1"></div>
<div class="r" style="left:136.5px;top:847.65px;width:393.5px;height:1px;background:#8082d4;opacity:1"></div>
<div class="r" style="left:136.5px;top:864.55px;width:393.5px;height:1px;background:#8082d4;opacity:1"></div>
<div class="t" style="left:74px;top:639px;width:62.5px;height:41px;font-size:10.8px;color:#fff;font-weight:700;justify-content:center;text-align:center;padding-left:0px;">Tester</div>
<div class="t" style="left:136.5px;top:639px;width:97.0px;height:41px;font-size:10.8px;color:#fff;font-weight:700;justify-content:center;text-align:center;padding-left:0px;">Parameter</div>
<div class="t" style="left:233.5px;top:638.5px;width:111.0px;height:41.0px;font-size:10.4px;color:#fff;font-weight:700;justify-content:center;text-align:center;padding-left:0px;line-height:13.2px;">Gingival bleeding<br>(BI)</div>
<div class="t" style="left:344.5px;top:638.5px;width:87.5px;height:41.0px;font-size:10.4px;color:#fff;font-weight:700;justify-content:center;text-align:center;padding-left:0px;line-height:13.2px;">Plaque index<br>(PI)</div>
<div class="t" style="left:432px;top:638.5px;width:98px;height:41.0px;font-size:10.4px;color:#fff;font-weight:700;justify-content:center;text-align:center;padding-left:0px;line-height:13.2px;"><span style="display:inline-block;transform:scaleX(0.955);transform-origin:50% 50%">Gingival recession<br>(R)</span></div>
<div class="t" style="left:74px;top:680.5px;width:62.5px;height:50.75px;font-size:11px;color:#fff;font-weight:400;justify-content:center;text-align:center;padding-left:0px;">Patient A</div>
<div class="t" style="left:136.5px;top:680.8px;width:97.0px;height:16.899999999999977px;font-size:9.1px;color:#fff;font-weight:400;justify-content:flex-start;text-align:left;padding-left:5.5px;">Before test</div>
<div class="t" style="left:233.5px;top:680.2px;width:111.0px;height:16.899999999999977px;font-size:9px;color:#e8e8f8;font-weight:400;justify-content:center;text-align:center;padding-left:0px;">64</div>
<div class="t" style="left:344.5px;top:680.2px;width:87.5px;height:16.899999999999977px;font-size:9px;color:#e8e8f8;font-weight:400;justify-content:center;text-align:center;padding-left:0px;">114</div>
<div class="t" style="left:432px;top:680.2px;width:98px;height:16.899999999999977px;font-size:9px;color:#e8e8f8;font-weight:400;justify-content:center;text-align:center;padding-left:0px;">2</div>
<div class="t" style="left:136.5px;top:697.6999999999999px;width:97.0px;height:16.899999999999977px;font-size:9.1px;color:#fff;font-weight:400;justify-content:flex-start;text-align:left;padding-left:5.5px;">After test</div>
<div class="t" style="left:233.5px;top:697.1px;width:111.0px;height:16.899999999999977px;font-size:9px;color:#e8e8f8;font-weight:400;justify-content:center;text-align:center;padding-left:0px;">18</div>
<div class="t" style="left:344.5px;top:697.1px;width:87.5px;height:16.899999999999977px;font-size:9px;color:#e8e8f8;font-weight:400;justify-content:center;text-align:center;padding-left:0px;">55</div>
<div class="t" style="left:432px;top:697.1px;width:98px;height:16.899999999999977px;font-size:9px;color:#e8e8f8;font-weight:400;justify-content:center;text-align:center;padding-left:0px;">1</div>
<div class="t" style="left:136.5px;top:714.5999999999999px;width:97.0px;height:16.950000000000045px;font-size:9px;color:#f4f6ff;font-weight:700;justify-content:flex-start;text-align:left;padding-left:5.5px;">Improvement rate(%)</div>
<div class="t" style="left:233.5px;top:714.9px;width:111.0px;height:16.950000000000045px;font-size:10px;color:#2e2e3a;font-weight:700;justify-content:center;text-align:center;padding-left:0px;">72%</div>
<div class="t" style="left:344.5px;top:714.9px;width:87.5px;height:16.950000000000045px;font-size:10px;color:#2e2e3a;font-weight:700;justify-content:center;text-align:center;padding-left:0px;">52%</div>
<div class="t" style="left:432px;top:714.9px;width:98px;height:16.950000000000045px;font-size:10px;color:#2e2e3a;font-weight:700;justify-content:center;text-align:center;padding-left:0px;">5%</div>
<div class="t" style="left:74px;top:731.25px;width:62.5px;height:50.75px;font-size:11px;color:#fff;font-weight:400;justify-content:center;text-align:center;padding-left:0px;">Patient B</div>
<div class="t" style="left:136.5px;top:731.55px;width:97.0px;height:16.899999999999977px;font-size:9.1px;color:#fff;font-weight:400;justify-content:flex-start;text-align:left;padding-left:5.5px;">Before test</div>
<div class="t" style="left:233.5px;top:730.95px;width:111.0px;height:16.899999999999977px;font-size:9px;color:#e8e8f8;font-weight:400;justify-content:center;text-align:center;padding-left:0px;">61</div>
<div class="t" style="left:344.5px;top:730.95px;width:87.5px;height:16.899999999999977px;font-size:9px;color:#e8e8f8;font-weight:400;justify-content:center;text-align:center;padding-left:0px;">88</div>
<div class="t" style="left:432px;top:730.95px;width:98px;height:16.899999999999977px;font-size:9px;color:#e8e8f8;font-weight:400;justify-content:center;text-align:center;padding-left:0px;">5</div>
<div class="t" style="left:136.5px;top:748.4499999999999px;width:97.0px;height:16.899999999999977px;font-size:9.1px;color:#fff;font-weight:400;justify-content:flex-start;text-align:left;padding-left:5.5px;">After test</div>
<div class="t" style="left:233.5px;top:747.85px;width:111.0px;height:16.899999999999977px;font-size:9px;color:#e8e8f8;font-weight:400;justify-content:center;text-align:center;padding-left:0px;">17</div>
<div class="t" style="left:344.5px;top:747.85px;width:87.5px;height:16.899999999999977px;font-size:9px;color:#e8e8f8;font-weight:400;justify-content:center;text-align:center;padding-left:0px;">9</div>
<div class="t" style="left:432px;top:747.85px;width:98px;height:16.899999999999977px;font-size:9px;color:#e8e8f8;font-weight:400;justify-content:center;text-align:center;padding-left:0px;">3</div>
<div class="t" style="left:136.5px;top:765.3499999999999px;width:97.0px;height:16.950000000000045px;font-size:9px;color:#f4f6ff;font-weight:700;justify-content:flex-start;text-align:left;padding-left:5.5px;">Improvement rate(%)</div>
<div class="t" style="left:233.5px;top:765.65px;width:111.0px;height:16.950000000000045px;font-size:10px;color:#2e2e3a;font-weight:700;justify-content:center;text-align:center;padding-left:0px;">72%</div>
<div class="t" style="left:344.5px;top:765.65px;width:87.5px;height:16.950000000000045px;font-size:10px;color:#2e2e3a;font-weight:700;justify-content:center;text-align:center;padding-left:0px;">90%</div>
<div class="t" style="left:432px;top:765.65px;width:98px;height:16.950000000000045px;font-size:10px;color:#2e2e3a;font-weight:700;justify-content:center;text-align:center;padding-left:0px;">12%</div>
<div class="t" style="left:74px;top:782.0px;width:62.5px;height:50.75px;font-size:11px;color:#fff;font-weight:400;justify-content:center;text-align:center;padding-left:0px;">Patient C</div>
<div class="t" style="left:136.5px;top:782.3px;width:97.0px;height:16.899999999999977px;font-size:9.1px;color:#fff;font-weight:400;justify-content:flex-start;text-align:left;padding-left:5.5px;">Before test</div>
<div class="t" style="left:233.5px;top:781.7px;width:111.0px;height:16.899999999999977px;font-size:9px;color:#e8e8f8;font-weight:400;justify-content:center;text-align:center;padding-left:0px;">63</div>
<div class="t" style="left:344.5px;top:781.7px;width:87.5px;height:16.899999999999977px;font-size:9px;color:#e8e8f8;font-weight:400;justify-content:center;text-align:center;padding-left:0px;">78</div>
<div class="t" style="left:432px;top:781.7px;width:98px;height:16.899999999999977px;font-size:9px;color:#e8e8f8;font-weight:400;justify-content:center;text-align:center;padding-left:0px;">8</div>
<div class="t" style="left:136.5px;top:799.1999999999999px;width:97.0px;height:16.899999999999977px;font-size:9.1px;color:#fff;font-weight:400;justify-content:flex-start;text-align:left;padding-left:5.5px;">After test</div>
<div class="t" style="left:233.5px;top:798.6px;width:111.0px;height:16.899999999999977px;font-size:9px;color:#e8e8f8;font-weight:400;justify-content:center;text-align:center;padding-left:0px;">19</div>
<div class="t" style="left:344.5px;top:798.6px;width:87.5px;height:16.899999999999977px;font-size:9px;color:#e8e8f8;font-weight:400;justify-content:center;text-align:center;padding-left:0px;">39</div>
<div class="t" style="left:432px;top:798.6px;width:98px;height:16.899999999999977px;font-size:9px;color:#e8e8f8;font-weight:400;justify-content:center;text-align:center;padding-left:0px;">3</div>
<div class="t" style="left:136.5px;top:816.0999999999999px;width:97.0px;height:16.950000000000045px;font-size:9px;color:#f4f6ff;font-weight:700;justify-content:flex-start;text-align:left;padding-left:5.5px;">Improvement rate(%)</div>
<div class="t" style="left:233.5px;top:816.4px;width:111.0px;height:16.950000000000045px;font-size:10px;color:#2e2e3a;font-weight:700;justify-content:center;text-align:center;padding-left:0px;">70%</div>
<div class="t" style="left:344.5px;top:816.4px;width:87.5px;height:16.950000000000045px;font-size:10px;color:#2e2e3a;font-weight:700;justify-content:center;text-align:center;padding-left:0px;">50%</div>
<div class="t" style="left:432px;top:816.4px;width:98px;height:16.950000000000045px;font-size:10px;color:#2e2e3a;font-weight:700;justify-content:center;text-align:center;padding-left:0px;">38%</div>
<div class="t" style="left:74px;top:832.75px;width:62.5px;height:50.75px;font-size:11px;color:#fff;font-weight:400;justify-content:center;text-align:center;padding-left:0px;">Patient D</div>
<div class="t" style="left:136.5px;top:833.05px;width:97.0px;height:16.899999999999977px;font-size:9.1px;color:#fff;font-weight:400;justify-content:flex-start;text-align:left;padding-left:5.5px;">Before test</div>
<div class="t" style="left:233.5px;top:832.45px;width:111.0px;height:16.899999999999977px;font-size:9px;color:#e8e8f8;font-weight:400;justify-content:center;text-align:center;padding-left:0px;">107</div>
<div class="t" style="left:344.5px;top:832.45px;width:87.5px;height:16.899999999999977px;font-size:9px;color:#e8e8f8;font-weight:400;justify-content:center;text-align:center;padding-left:0px;">138</div>
<div class="t" style="left:432px;top:832.45px;width:98px;height:16.899999999999977px;font-size:9px;color:#e8e8f8;font-weight:400;justify-content:center;text-align:center;padding-left:0px;">7</div>
<div class="t" style="left:136.5px;top:849.9499999999999px;width:97.0px;height:16.899999999999977px;font-size:9.1px;color:#fff;font-weight:400;justify-content:flex-start;text-align:left;padding-left:5.5px;">After test</div>
<div class="t" style="left:233.5px;top:849.35px;width:111.0px;height:16.899999999999977px;font-size:9px;color:#e8e8f8;font-weight:400;justify-content:center;text-align:center;padding-left:0px;">60</div>
<div class="t" style="left:344.5px;top:849.35px;width:87.5px;height:16.899999999999977px;font-size:9px;color:#e8e8f8;font-weight:400;justify-content:center;text-align:center;padding-left:0px;">99</div>
<div class="t" style="left:432px;top:849.35px;width:98px;height:16.899999999999977px;font-size:9px;color:#e8e8f8;font-weight:400;justify-content:center;text-align:center;padding-left:0px;">2</div>
<div class="t" style="left:136.5px;top:866.8499999999999px;width:97.0px;height:16.950000000000045px;font-size:9px;color:#f4f6ff;font-weight:700;justify-content:flex-start;text-align:left;padding-left:5.5px;">Improvement rate(%)</div>
<div class="t" style="left:233.5px;top:867.15px;width:111.0px;height:16.950000000000045px;font-size:10px;color:#2e2e3a;font-weight:700;justify-content:center;text-align:center;padding-left:0px;">44%</div>
<div class="t" style="left:344.5px;top:867.15px;width:87.5px;height:16.950000000000045px;font-size:10px;color:#2e2e3a;font-weight:700;justify-content:center;text-align:center;padding-left:0px;">28%</div>
<div class="t" style="left:432px;top:867.15px;width:98px;height:16.950000000000045px;font-size:10px;color:#2e2e3a;font-weight:700;justify-content:center;text-align:center;padding-left:0px;">23%</div>
<svg class="r" style="left:0;top:0" width="1024" height="1024"><rect x="481.9" y="354.8" width="458.2" height="274.3" fill="#fff" stroke="none"/><line x1="481.9" y1="354" x2="481.9" y2="629.8" stroke="#9a9a9a" stroke-width="1.7"/><line x1="481.1" y1="354.8" x2="940.8" y2="354.8" stroke="#111" stroke-width="1.6"/><line x1="940.0" y1="354" x2="940.0" y2="629.8" stroke="#333" stroke-width="1.6"/><line x1="481.1" y1="629.0" x2="940.8" y2="629.0" stroke="#333" stroke-width="1.6"/><g font-family="Liberation Sans, sans-serif"><text x="710.1" y="376.6" text-anchor="middle" font-size="13" fill="#111" textLength="288" stroke="#111" stroke-width="0.25" lengthAdjust="spacingAndGlyphs">The individual improvement rate of BI, PI and R parameters</text><text x="710.7" y="394.9" text-anchor="middle" font-size="12.3" fill="#111" textLength="137.5" stroke="#111" stroke-width="0.25" lengthAdjust="spacingAndGlyphs">Human test cycle : 3 months</text><line x1="534.6" y1="416.29999999999995" x2="534.6" y2="591.4" stroke="#3a3a3a" stroke-width="1.6"/><line x1="534.6" y1="591.4" x2="927.6" y2="591.4" stroke="#3a3a3a" stroke-width="1.6"/><line x1="532.1" y1="591.40" x2="534.6" y2="591.40" stroke="#3a3a3a" stroke-width="1.2"/><text x="527.5" y="594.70" text-anchor="end" font-size="9" fill="#595959" textLength="9.9" lengthAdjust="spacingAndGlyphs">0%</text><line x1="532.1" y1="573.89" x2="534.6" y2="573.89" stroke="#3a3a3a" stroke-width="1.2"/><text x="527.5" y="577.19" text-anchor="end" font-size="9" fill="#595959" textLength="13.5" lengthAdjust="spacingAndGlyphs">10%</text><line x1="532.1" y1="556.38" x2="534.6" y2="556.38" stroke="#3a3a3a" stroke-width="1.2"/><text x="527.5" y="559.68" text-anchor="end" font-size="9" fill="#595959" textLength="13.5" lengthAdjust="spacingAndGlyphs">20%</text><line x1="532.1" y1="538.87" x2="534.6" y2="538.87" stroke="#3a3a3a" stroke-width="1.2"/><text x="527.5" y="542.17" text-anchor="end" font-size="9" fill="#595959" textLength="13.5" lengthAdjust="spacingAndGlyphs">30%</text><line x1="532.1" y1="521.36" x2="534.6" y2="521.36" stroke="#3a3a3a" stroke-width="1.2"/><text x="527.5" y="524.66" text-anchor="end" font-size="9" fill="#595959" textLength="13.5" lengthAdjust="spacingAndGlyphs">40%</text><line x1="532.1" y1="503.85" x2="534.6" y2="503.85" stroke="#3a3a3a" stroke-width="1.2"/><text x="527.5" y="507.15" text-anchor="end" font-size="9" fill="#595959" textLength="13.5" lengthAdjust="spacingAndGlyphs">50%</text><line x1="532.1" y1="486.34" x2="534.6" y2="486.34" stroke="#3a3a3a" stroke-width="1.2"/><text x="527.5" y="489.64" text-anchor="end" font-size="9" fill="#595959" textLength="13.5" lengthAdjust="spacingAndGlyphs">60%</text><line x1="532.1" y1="468.83" x2="534.6" y2="468.83" stroke="#3a3a3a" stroke-width="1.2"/><text x="527.5" y="472.13" text-anchor="end" font-size="9" fill="#595959" textLength="13.5" lengthAdjust="spacingAndGlyphs">70%</text><line x1="532.1" y1="451.32" x2="534.6" y2="451.32" stroke="#3a3a3a" stroke-width="1.2"/><text x="527.5" y="454.62" text-anchor="end" font-size="9" fill="#595959" textLength="13.5" lengthAdjust="spacingAndGlyphs">80%</text><line x1="532.1" y1="433.81" x2="534.6" y2="433.81" stroke="#3a3a3a" stroke-width="1.2"/><text x="527.5" y="437.11" text-anchor="end" font-size="9" fill="#595959" textLength="13.5" lengthAdjust="spacingAndGlyphs">90%</text><line x1="532.1" y1="416.30" x2="534.6" y2="416.30" stroke="#3a3a3a" stroke-width="1.2"/><text x="527.5" y="419.60" text-anchor="end" font-size="9" fill="#595959" textLength="17.2" lengthAdjust="spacingAndGlyphs">100%</text><text transform="translate(500.8,498.8) rotate(-90)" text-anchor="middle" font-size="9.6" font-weight="bold" fill="#1a1a1a" textLength="165.5" lengthAdjust="spacingAndGlyphs">Individual improvement rate (%)</text><rect x="554.10" y="465.33" width="17" height="126.07" fill="#5aa935"/><text x="562.60" y="457.83" text-anchor="middle" font-size="8.5" fill="#6f6f6f" textLength="14" lengthAdjust="spacingAndGlyphs">72%</text><rect x="575.70" y="500.35" width="17" height="91.05" fill="#3d94d8"/><text x="584.20" y="492.85" text-anchor="middle" font-size="8.5" fill="#6f6f6f" textLength="14" lengthAdjust="spacingAndGlyphs">52%</text><rect x="597.70" y="582.64" width="17" height="8.76" fill="#fbb800"/><text x="606.20" y="575.14" text-anchor="middle" font-size="8.5" fill="#6f6f6f" textLength="9.7" lengthAdjust="spacingAndGlyphs">5%</text><text x="583.62" y="610.6" text-anchor="middle" font-size="10" font-weight="bold" fill="#111" textLength="37.5" lengthAdjust="spacingAndGlyphs">Patient A</text><rect x="652.15" y="465.33" width="17" height="126.07" fill="#5aa935"/><text x="660.65" y="457.83" text-anchor="middle" font-size="8.5" fill="#6f6f6f" textLength="14" lengthAdjust="spacingAndGlyphs">72%</text><rect x="673.75" y="433.81" width="17" height="157.59" fill="#3d94d8"/><text x="682.25" y="426.31" text-anchor="middle" font-size="8.5" fill="#6f6f6f" textLength="14" lengthAdjust="spacingAndGlyphs">90%</text><rect x="695.75" y="570.39" width="17" height="21.01" fill="#fbb800"/><text x="704.25" y="562.89" text-anchor="middle" font-size="8.5" fill="#6f6f6f" textLength="14" lengthAdjust="spacingAndGlyphs">12%</text><text x="681.67" y="610.6" text-anchor="middle" font-size="10" font-weight="bold" fill="#111" textLength="37.5" lengthAdjust="spacingAndGlyphs">Patient B</text><rect x="750.20" y="468.83" width="17" height="122.57" fill="#5aa935"/><text x="758.70" y="461.33" text-anchor="middle" font-size="8.5" fill="#6f6f6f" textLength="14" lengthAdjust="spacingAndGlyphs">70%</text><rect x="771.80" y="503.85" width="17" height="87.55" fill="#3d94d8"/><text x="780.30" y="496.35" text-anchor="middle" font-size="8.5" fill="#6f6f6f" textLength="14" lengthAdjust="spacingAndGlyphs">50%</text><rect x="793.80" y="524.86" width="17" height="66.54" fill="#fbb800"/><text x="802.30" y="517.36" text-anchor="middle" font-size="8.5" fill="#6f6f6f" textLength="14" lengthAdjust="spacingAndGlyphs">38%</text><text x="779.73" y="610.6" text-anchor="middle" font-size="10" font-weight="bold" fill="#111" textLength="37.5" lengthAdjust="spacingAndGlyphs">Patient C</text><rect x="848.25" y="514.36" width="17" height="77.04" fill="#5aa935"/><text x="856.75" y="506.86" text-anchor="middle" font-size="8.5" fill="#6f6f6f" textLength="14" lengthAdjust="spacingAndGlyphs">44%</text><rect x="869.85" y="542.37" width="17" height="49.03" fill="#3d94d8"/><text x="878.35" y="534.87" text-anchor="middle" font-size="8.5" fill="#6f6f6f" textLength="14" lengthAdjust="spacingAndGlyphs">28%</text><rect x="891.85" y="551.13" width="17" height="40.27" fill="#fbb800"/><text x="900.35" y="543.63" text-anchor="middle" font-size="8.5" fill="#6f6f6f" textLength="14" lengthAdjust="spacingAndGlyphs">23%</text><text x="877.77" y="610.6" text-anchor="middle" font-size="10" font-weight="bold" fill="#111" textLength="37.5" lengthAdjust="spacingAndGlyphs">Patient D</text><rect x="785.8" y="418.0" width="5.4" height="5.4" fill="#5aa935"/><text x="793.2" y="424.1" font-size="9.4" font-weight="bold" fill="#1a1a1a" textLength="118.8" lengthAdjust="spacingAndGlyphs">Gum bleeding improvement (%)</text><rect x="785.8" y="431.7" width="5.4" height="5.4" fill="#3d94d8"/><text x="793.2" y="437.8" font-size="9.4" font-weight="bold" fill="#1a1a1a" textLength="115.4" lengthAdjust="spacingAndGlyphs">Plaque index improvement (%)</text><rect x="785.8" y="445.4" width="5.4" height="5.4" fill="#fbb800"/><text x="793.2" y="451.5" font-size="9.4" font-weight="bold" fill="#1a1a1a" textLength="133.8" lengthAdjust="spacingAndGlyphs">Gingival recession improvement (%)</text></g><rect x="533.6" y="639.2" width="406.8" height="243" fill="#fff" stroke="none"/><line x1="532.8" y1="639.2" x2="941" y2="639.2" stroke="#8a8a8a" stroke-width="1.6"/><line x1="533.6" y1="638.4" x2="533.6" y2="882.8" stroke="#2a2a2a" stroke-width="1.4"/><line x1="940.4" y1="638.4" x2="940.4" y2="882.8" stroke="#444" stroke-width="1.4"/><line x1="532.8" y1="882.2" x2="941" y2="882.2" stroke="#333" stroke-width="1.3"/><g font-family="Liberation Sans, sans-serif"><text x="736.7" y="658.6" text-anchor="middle" font-size="11.5" fill="#111" textLength="248.8" stroke="#111" stroke-width="0.25" lengthAdjust="spacingAndGlyphs">The individual improvement rate of μ, and PD parameters</text><text x="736.7" y="674.2" text-anchor="middle" font-size="11" fill="#111" textLength="97.4" stroke="#111" stroke-width="0.25" lengthAdjust="spacingAndGlyphs">Test period : 3 months</text><line x1="592.9" y1="697.08" x2="592.9" y2="851.1" stroke="#3a3a3a" stroke-width="1.5"/><line x1="592.9" y1="851.1" x2="928" y2="851.1" stroke="#3a3a3a" stroke-width="1.5"/><line x1="590.4" y1="851.10" x2="592.9" y2="851.10" stroke="#3a3a3a" stroke-width="1.1"/><text x="587" y="853.80" text-anchor="end" font-size="7.6" fill="#595959" textLength="8.6" lengthAdjust="spacingAndGlyphs">0%</text><line x1="590.4" y1="825.43" x2="592.9" y2="825.43" stroke="#3a3a3a" stroke-width="1.1"/><text x="587" y="828.13" text-anchor="end" font-size="7.6" fill="#595959" textLength="11.8" lengthAdjust="spacingAndGlyphs">20%</text><line x1="590.4" y1="799.76" x2="592.9" y2="799.76" stroke="#3a3a3a" stroke-width="1.1"/><text x="587" y="802.46" text-anchor="end" font-size="7.6" fill="#595959" textLength="11.8" lengthAdjust="spacingAndGlyphs">40%</text><line x1="590.4" y1="774.09" x2="592.9" y2="774.09" stroke="#3a3a3a" stroke-width="1.1"/><text x="587" y="776.79" text-anchor="end" font-size="7.6" fill="#595959" textLength="11.8" lengthAdjust="spacingAndGlyphs">60%</text><line x1="590.4" y1="748.42" x2="592.9" y2="748.42" stroke="#3a3a3a" stroke-width="1.1"/><text x="587" y="751.12" text-anchor="end" font-size="7.6" fill="#595959" textLength="11.8" lengthAdjust="spacingAndGlyphs">80%</text><line x1="590.4" y1="722.75" x2="592.9" y2="722.75" stroke="#3a3a3a" stroke-width="1.1"/><text x="587" y="725.45" text-anchor="end" font-size="7.6" fill="#595959" textLength="15.6" lengthAdjust="spacingAndGlyphs">100%</text><line x1="590.4" y1="697.08" x2="592.9" y2="697.08" stroke="#3a3a3a" stroke-width="1.1"/><text x="587" y="699.78" text-anchor="end" font-size="7.6" fill="#595959" textLength="15.6" lengthAdjust="spacingAndGlyphs">120%</text><text transform="translate(553.9,784.3) rotate(-90)" text-anchor="middle" font-size="8.8" font-weight="bold" fill="#1a1a1a" textLength="146.7" lengthAdjust="spacingAndGlyphs">Individual improvement rate (%)</text><rect x="606.30" y="756.12" width="11.8" height="94.98" fill="#2f6fc5"/><text x="612.20" y="749.82" text-anchor="middle" font-size="8" fill="#6f6f6f" textLength="12.3" lengthAdjust="spacingAndGlyphs">74%</text><rect x="621.40" y="849.82" width="11.8" height="1.28" fill="#f37423"/><text x="627.30" y="843.52" text-anchor="middle" font-size="8" fill="#6f6f6f" textLength="8.2" lengthAdjust="spacingAndGlyphs">1%</text><rect x="636.40" y="770.24" width="11.8" height="80.86" fill="#a6a6a6"/><text x="642.30" y="763.94" text-anchor="middle" font-size="8" fill="#6f6f6f" textLength="12.3" lengthAdjust="spacingAndGlyphs">63%</text><rect x="651.60" y="722.75" width="11.8" height="128.35" fill="#fdbf00"/><text x="657.50" y="716.45" text-anchor="middle" font-size="8" fill="#6f6f6f" textLength="16.8" lengthAdjust="spacingAndGlyphs">100%</text><text x="634.82" y="868.6" text-anchor="middle" font-size="9.2" font-weight="bold" fill="#111" textLength="46.2" lengthAdjust="spacingAndGlyphs">(μ) Patient A</text><rect x="690.15" y="790.78" width="11.8" height="60.32" fill="#2f6fc5"/><text x="696.05" y="784.48" text-anchor="middle" font-size="8" fill="#6f6f6f" textLength="12.3" lengthAdjust="spacingAndGlyphs">47%</text><rect x="705.25" y="829.28" width="11.8" height="21.82" fill="#f37423"/><text x="711.15" y="822.98" text-anchor="middle" font-size="8" fill="#6f6f6f" textLength="12.3" lengthAdjust="spacingAndGlyphs">17%</text><rect x="720.25" y="808.74" width="11.8" height="42.36" fill="#a6a6a6"/><text x="726.15" y="802.44" text-anchor="middle" font-size="8" fill="#6f6f6f" textLength="12.3" lengthAdjust="spacingAndGlyphs">33%</text><rect x="735.45" y="722.75" width="11.8" height="128.35" fill="#fdbf00"/><text x="741.35" y="716.45" text-anchor="middle" font-size="8" fill="#6f6f6f" textLength="16.8" lengthAdjust="spacingAndGlyphs">100%</text><text x="718.67" y="868.6" text-anchor="middle" font-size="9.2" font-weight="bold" fill="#111" textLength="46.2" lengthAdjust="spacingAndGlyphs">(μ) Patient B</text><rect x="774.00" y="834.41" width="11.8" height="16.69" fill="#2f6fc5"/><text x="779.90" y="828.11" text-anchor="middle" font-size="8" fill="#6f6f6f" textLength="12.3" lengthAdjust="spacingAndGlyphs">13%</text><rect x="789.10" y="742.00" width="11.8" height="109.10" fill="#f37423"/><text x="795.00" y="735.70" text-anchor="middle" font-size="8" fill="#6f6f6f" textLength="12.3" lengthAdjust="spacingAndGlyphs">85%</text><rect x="804.10" y="774.09" width="11.8" height="77.01" fill="#a6a6a6"/><text x="810.00" y="767.79" text-anchor="middle" font-size="8" fill="#6f6f6f" textLength="12.3" lengthAdjust="spacingAndGlyphs">60%</text><rect x="819.30" y="738.15" width="11.8" height="112.95" fill="#fdbf00"/><text x="825.20" y="731.85" text-anchor="middle" font-size="8" fill="#6f6f6f" textLength="12.3" lengthAdjust="spacingAndGlyphs">88%</text><text x="802.52" y="868.6" text-anchor="middle" font-size="9.2" font-weight="bold" fill="#111" textLength="52" lengthAdjust="spacingAndGlyphs">(PD)-Patient A</text><rect x="857.85" y="842.12" width="11.8" height="8.98" fill="#2f6fc5"/><text x="863.75" y="835.82" text-anchor="middle" font-size="8" fill="#6f6f6f" textLength="8.2" lengthAdjust="spacingAndGlyphs">7%</text><rect x="872.95" y="816.45" width="11.8" height="34.65" fill="#f37423"/><text x="878.85" y="810.15" text-anchor="middle" font-size="8" fill="#6f6f6f" textLength="12.3" lengthAdjust="spacingAndGlyphs">27%</text><rect x="887.95" y="765.11" width="11.8" height="85.99" fill="#a6a6a6"/><text x="893.85" y="758.81" text-anchor="middle" font-size="8" fill="#6f6f6f" textLength="12.3" lengthAdjust="spacingAndGlyphs">67%</text><rect x="903.15" y="819.01" width="11.8" height="32.09" fill="#fdbf00"/><text x="909.05" y="812.71" text-anchor="middle" font-size="8" fill="#6f6f6f" textLength="12.3" lengthAdjust="spacingAndGlyphs">25%</text><text x="886.37" y="868.6" text-anchor="middle" font-size="9.2" font-weight="bold" fill="#111" textLength="52" lengthAdjust="spacingAndGlyphs">(PD)-Patient B</text><rect x="848.4" y="686.0" width="4" height="4.4" fill="#2f6fc5"/><text x="854.6" y="691.0" font-size="8" font-weight="bold" fill="#1a1a1a" textLength="41.6" lengthAdjust="spacingAndGlyphs">Healthy gum</text><rect x="848.4" y="697.1" width="4" height="4.4" fill="#f37423"/><text x="854.6" y="702.1" font-size="8" font-weight="bold" fill="#1a1a1a" textLength="59.1" lengthAdjust="spacingAndGlyphs">Mild periodontitis</text><rect x="848.4" y="708.2" width="4" height="4.4" fill="#a6a6a6"/><text x="854.6" y="713.2" font-size="8" font-weight="bold" fill="#1a1a1a" textLength="77.2" lengthAdjust="spacingAndGlyphs">Moderate periodontitis</text><rect x="848.4" y="719.3" width="4" height="4.4" fill="#fdbf00"/><text x="854.6" y="724.3" font-size="8" font-weight="bold" fill="#1a1a1a" textLength="66.4" lengthAdjust="spacingAndGlyphs">Severe periodontitis</text></g></svg>
<div class="cj" style="left:168px;top:908px;font-size:25.6px;line-height:26px;color:#3a3a3a;">『寡肽於治療牙齦發炎和牙齦萎縮及修復口腔黏膜之用途』</div>
</body></html>
